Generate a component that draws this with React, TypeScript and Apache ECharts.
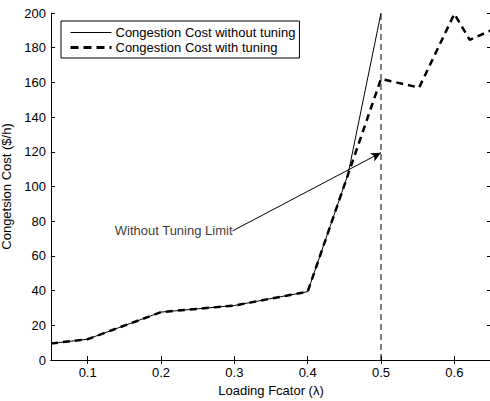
import React, { useEffect, useRef } from "react";
import * as echarts from "echarts";

const withoutX = [0.05, 0.1, 0.2, 0.3, 0.4, 0.455, 0.5];
const withoutY = [9.5, 12, 27.6, 31.4, 39.4, 107, 200];
const withX = [0.05, 0.1, 0.2, 0.3, 0.4, 0.5, 0.552, 0.6, 0.621, 0.65];
const withY = [9.5, 12, 27.6, 31.4, 39.4, 162, 157, 199.5, 184.5, 190];
const limitX = 0.5;
const arrowFrom = [0.2975, 74.4];
const arrowTo = [0.5, 119.5];
const xTicks = [0.1, 0.2, 0.3, 0.4, 0.5, 0.6];
const seriesNames = ["Congestion Cost without tuning", "Congestion Cost with tuning"];

const FONT = "Liberation Sans, Arial, Helvetica, sans-serif";

export default function App() {
  const ref = useRef<HTMLDivElement>(null);
  useEffect(() => {
    if (!ref.current) return;
    const chart = echarts.init(ref.current, undefined, { renderer: "svg" });
    const axisCommon = {
      axisLine: { show: true, lineStyle: { color: "#000", width: 1 } },
      axisTick: { show: true, inside: true, length: 4, lineStyle: { color: "#000", width: 1 } },
      splitLine: { show: false },
    };
    chart.setOption({
      animation: false,
      backgroundColor: "#fff",
      textStyle: { fontFamily: FONT, color: "#000" },
      grid: { left: 51, top: 13, width: 440, height: 347, containLabel: false, outerBoundsMode: "none" },
      legend: {
        orient: "vertical",
        left: 61,
        top: 21,
        data: [
          { name: seriesNames[0], lineStyle: { width: 1, color: "#000" } },
          { name: seriesNames[1], lineStyle: { width: 3, color: "#000", type: [8, 5] } },
        ],
        itemWidth: 41,
        itemHeight: 13,
        itemGap: 2,
        padding: [5, 4, 4, 8],
        borderColor: "#000",
        borderWidth: 1,
        backgroundColor: "#fff",
        itemStyle: { opacity: 0 },
        textStyle: { fontFamily: FONT, fontSize: 13, color: "#000", padding: [0, 0, 0, -1] },
      },
      xAxis: [
        {
          type: "value",
          min: 0.05,
          max: 0.65,
          position: "bottom",
          ...axisCommon,
          axisTick: { ...axisCommon.axisTick, customValues: xTicks },
          axisLabel: {
            fontFamily: FONT,
            fontSize: 13,
            color: "#000",
            margin: 6,
            customValues: xTicks,
            formatter: (v: number) => v.toFixed(1),
          },
          name: "Loading Fcator (λ)",
          nameLocation: "middle",
          nameGap: 21,
          nameTextStyle: { fontFamily: FONT, fontSize: 13, color: "#000" },
        },
        {
          type: "value",
          min: 0.05,
          max: 0.65,
          position: "top",
          ...axisCommon,
          axisTick: { ...axisCommon.axisTick, customValues: xTicks },
          axisLabel: { show: false, customValues: xTicks },
        },
      ],
      yAxis: [
        {
          type: "value",
          min: 0,
          max: 200,
          interval: 20,
          position: "left",
          ...axisCommon,
          axisLabel: { fontFamily: FONT, fontSize: 13, color: "#000", margin: 5 },
          name: "Congetsion Cost ($/h)",
          nameLocation: "middle",
          nameGap: 30,
          nameTextStyle: { fontFamily: FONT, fontSize: 13, color: "#000" },
        },
        {
          type: "value",
          min: 0,
          max: 200,
          interval: 20,
          position: "right",
          ...axisCommon,
          axisLabel: { show: false },
        },
      ],
      series: [
        {
          name: seriesNames[0],
          type: "line",
          data: withoutX.map((x, i) => [x, withoutY[i]]),
          symbol: "none",
          lineStyle: { color: "#000", width: 1 },
          itemStyle: { color: "#000" },
          z: 3,
        },
        {
          name: seriesNames[1],
          type: "line",
          data: withX.map((x, i) => [x, withY[i]]),
          symbol: "none",
          lineStyle: { color: "#000", width: 2.5, type: [7, 5] },
          itemStyle: { color: "#000" },
          z: 2,
          markLine: {
            silent: true,
            animation: false,
            label: { show: false },
            data: [
              [
                { coord: arrowFrom, symbol: "none" },
                { coord: arrowTo, symbol: "arrow", symbolSize: [7, 10] },
              ],
            ],
            lineStyle: { color: "#000", width: 1, type: "solid" },
          },
        },
        {
          name: "limitLine",
          type: "line",
          data: [
            [limitX, 0],
            [limitX, 200],
          ],
          symbol: "none",
          lineStyle: { color: "#000", width: 1, type: [6, 4] },
          z: 1,
        },
        {
          name: "annotation",
          type: "scatter",
          data: [arrowFrom],
          symbolSize: 0,
          label: {
            show: true,
            position: "left",
            distance: 0,
            formatter: "Without Tuning Limit",
            fontFamily: FONT,
            fontSize: 13,
            color: "#000",
          },
          z: 4,
        },
      ],
    });
    return () => chart.dispose();
  }, []);
  return <div ref={ref} style={{ width: 490, height: 401, position: "absolute", left: 0, top: 0 }} />;
}
